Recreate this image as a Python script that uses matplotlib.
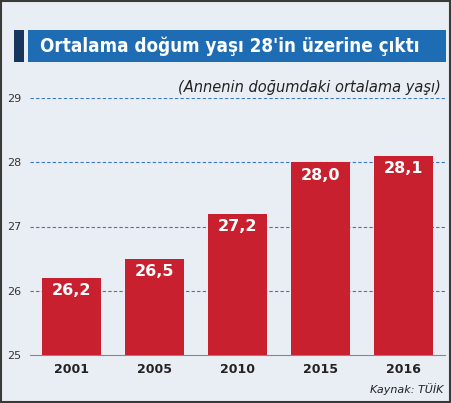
import matplotlib
matplotlib.use("Agg")
import matplotlib.pyplot as plt
from matplotlib.patches import Rectangle

years = ["2001", "2005", "2010", "2015", "2016"]
values = [26.2, 26.5, 27.2, 28.0, 28.1]
yticks = [25, 26, 27, 28, 29]

W, H = 451, 403
fig = plt.figure(figsize=(W/100, H/100), dpi=100)
fig.patch.set_facecolor("#e9eef4")
# outer border
fig.add_artist(Rectangle((0.003, 0.003), 0.994, 0.994, transform=fig.transFigure,
                         fill=False, edgecolor="#3a3a3a", lw=1.5))
# title bar
fig.add_artist(Rectangle((28/W, 1-62/H), 418/W, 32/H, transform=fig.transFigure,
                         facecolor="#1e6cb4", edgecolor="none"))
fig.add_artist(Rectangle((14/W, 1-62/H), 10/W, 32/H, transform=fig.transFigure,
                         facecolor="#16365e", edgecolor="none"))
fig.text(40/W, 1-46/H, "Ortalama doğum yaşı 28'in üzerine çıktı", color="white",
         fontsize=13.5, fontweight="bold", va="center", ha="left", family="DejaVu Sans",
         fontstretch="condensed")

ax = fig.add_axes([30/W, 1-355/H, 415/W, 257/H])
ax.set_facecolor("none")
x = list(range(len(years)))
ax.bar(x, values, width=0.7, color="#c8202e", zorder=3)
for xi, v in zip(x, values):
    ax.text(xi, v - 0.2, f"{v:.1f}".replace(".", ","), ha="center", va="center",
            color="white", fontsize=11.5, fontweight="bold", zorder=4)
ax.set_ylim(25, 29)
ax.set_xlim(-0.5, 4.5)
ax.set_yticks(yticks)
ax.set_yticklabels([str(t) for t in yticks], fontsize=8, color="#333333")
ax.set_xticks(x)
ax.set_xticklabels(years, fontsize=9, fontweight="bold", color="#222222")
ax.tick_params(length=0, pad=6)
for t in yticks[1:]:
    ax.axhline(t, color="#3a78c0", lw=0.8, ls=(0, (3, 2)), zorder=1)
for s in ["top", "right", "left"]:
    ax.spines[s].set_visible(False)
ax.spines["bottom"].set_color("#888888")
ax.text(0.99, 1.04, "(Annenin doğumdaki ortalama yaşı)", transform=ax.transAxes,
        ha="right", va="center", fontsize=10.5, style="italic", color="#222222")
fig.text(443/W, 1-389/H, "Kaynak: TÜİK", ha="right", va="center", fontsize=8,
         style="italic", color="#222222")
fig.savefig("out.png", dpi=100, facecolor=fig.get_facecolor())
